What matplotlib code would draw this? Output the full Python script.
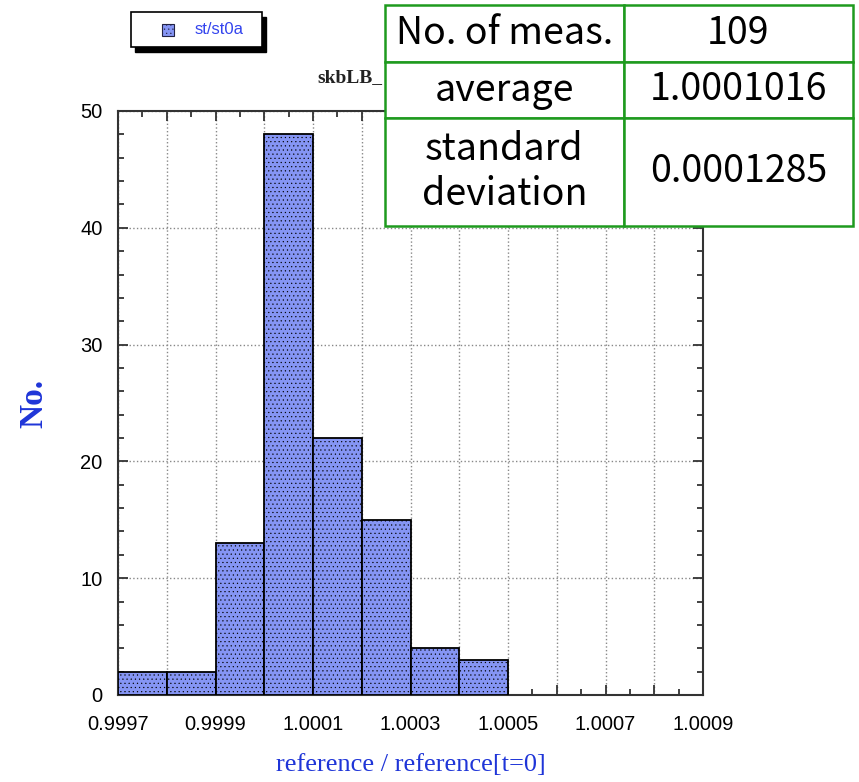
import numpy as np
import matplotlib.pyplot as plt
from matplotlib.ticker import MultipleLocator, FuncFormatter
from matplotlib.patches import Rectangle

# histogram of reference / reference[t=0]
bin_lefts = [0.9997, 0.9998, 0.9999, 1.0000, 1.0001, 1.0002, 1.0003, 1.0004]
counts = [2, 2, 13, 48, 22, 15, 4, 3]
bin_width = 0.0001

labelled_ticks = ['0.9997', '0.9999', '1.0001', '1.0003', '1.0005', '1.0007', '1.0009']

stats_names = ['No. of meas.', 'average', 'standard\ndeviation']
stats_values = ['109', '1.0001016', '0.0001285']

bar_color = '#8595f4'
label_blue = '#1f35d8'

plt.rcParams['hatch.color'] = '#4656dc'
plt.rcParams['hatch.linewidth'] = 0.35

W, H = 859, 782


def fx(px):
    return px / W


def fy(py):
    return 1 - py / H


fig = plt.figure(figsize=(W / 100, H / 100), dpi=100)
ax = fig.add_axes([fx(118), fy(695), 585 / W, 584 / H])

ax.bar(bin_lefts, counts, width=bin_width, align='edge', color=bar_color,
       edgecolor='black', linewidth=1.3, hatch='....', zorder=3)

ax.set_xlim(0.9997, 1.0009)
ax.set_ylim(0, 50)

ax.xaxis.set_major_locator(MultipleLocator(0.0001))
ax.xaxis.set_minor_locator(MultipleLocator(0.00005))
ax.yaxis.set_major_locator(MultipleLocator(10))
ax.yaxis.set_minor_locator(MultipleLocator(2))


def x_label(v, pos):
    s = '%.4f' % v
    return s if s in labelled_ticks else ''


ax.xaxis.set_major_formatter(FuncFormatter(x_label))
ax.tick_params(which='both', direction='in', top=True, right=True,
               width=1.3, color='#333333', labelsize=14.5)
ax.tick_params(which='major', length=7, pad=11)
ax.tick_params(axis='x', which='major', pad=14.5)
ax.tick_params(which='minor', length=4)
for lab in ax.get_xticklabels() + ax.get_yticklabels():
    lab.set_family('Liberation Sans')
for sp in ax.spines.values():
    sp.set_linewidth(1.5)
    sp.set_color('#333333')

ax.grid(True, which='major', linestyle=':', color='#888888', linewidth=1.0, zorder=0)
ax.set_axisbelow(True)

ax.set_xlabel('reference / reference[t=0]', family='Liberation Serif',
              fontsize=19, color=label_blue, labelpad=14)
ax.set_ylabel('No.', family='Liberation Serif', fontsize=24, fontweight='bold',
              color=label_blue, labelpad=22)

fig.text(fx(317), fy(78), 'skbLB_', family='Liberation Serif',
         fontweight='bold', fontsize=14, color='#222222', va='center')

# legend box with drop shadow
fig.add_artist(Rectangle((fx(135), fy(52)), 131 / W, 35 / H, transform=fig.transFigure,
                         facecolor='black', edgecolor='black'))
fig.add_artist(Rectangle((fx(131), fy(47)), 131 / W, 35 / H, transform=fig.transFigure,
                         facecolor='white', edgecolor='black', linewidth=1.2))
fig.add_artist(Rectangle((fx(162), fy(36)), 12 / W, 12 / H, transform=fig.transFigure,
                         facecolor=bar_color, edgecolor='#222244', linewidth=0.8,
                         hatch='....'))
fig.text(fx(195), fy(29), 'st/st0a', family='Liberation Sans', fontsize=12,
         color='#3344ee', va='center')

# summary table in the upper right corner
tab_ax = fig.add_axes([fx(385), fy(226), 468 / W, 221 / H])
tab_ax.axis('off')
cells = [[n, v] for n, v in zip(stats_names, stats_values)]
tbl = tab_ax.table(cellText=cells, cellLoc='center', bbox=[0, 0, 1, 1],
                   colWidths=[239, 229])
tbl.auto_set_font_size(False)
row_heights = [57, 56, 108]
for (r, c), cell in tbl.get_celld().items():
    cell.set_height(row_heights[r])
    cell.set_edgecolor('#1e9a1e')
    cell.set_linewidth(1.8)
    cell.set_facecolor('white')
    cell.get_text().set_fontsize(27)
    cell.get_text().set_family(['Noto Sans CJK JP', 'DejaVu Sans'])
    cell.get_text().set_linespacing(1.22)

fig.savefig('out.png', dpi=100)
